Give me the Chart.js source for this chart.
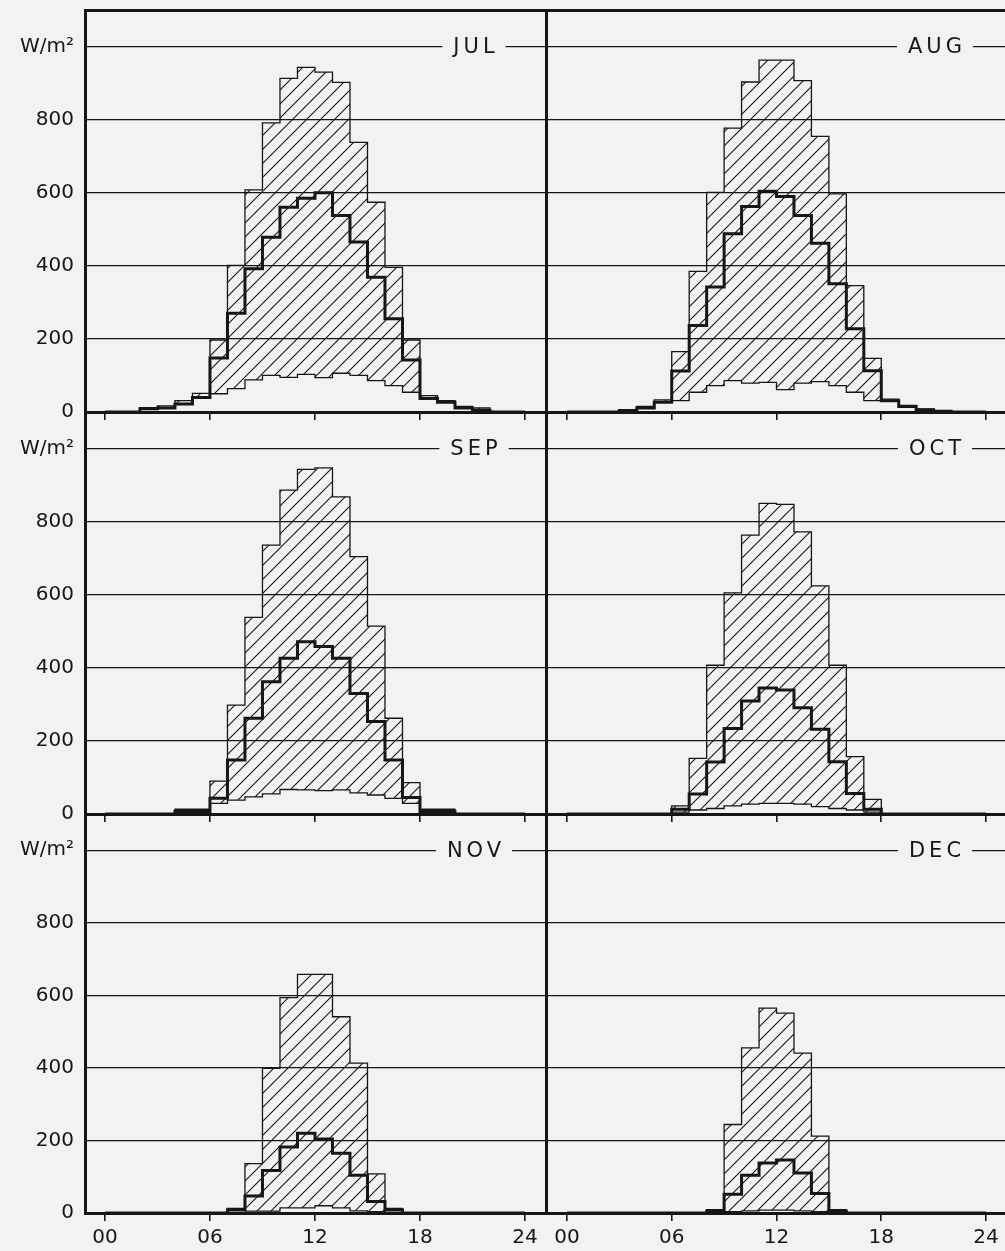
<!DOCTYPE html>
<html lang="en">
<head>
    <meta charset="UTF-8">
    <title>Hourly global radiation, Jul - Dec</title>
    <style>
        html, body { margin: 0; padding: 0; background: #f2f2f0; overflow: hidden; }
        #wrap { position: relative; width: 1005px; height: 1251px; }
        canvas { position: absolute; }
    </style>
</head>
<body>
    <div id="wrap"></div>

    <script src="https://cdn.jsdelivr.net/npm/chart.js@4.4.1/dist/chart.umd.min.js"></script>

    <script>
        // hour of day, one bin per hour
        const hours = [0, 1, 2, 3, 4, 5, 6, 7, 8, 9, 10, 11, 12, 13, 14, 15, 16, 17, 18, 19, 20, 21, 22, 23];
        const xTicks = [0, 6, 12, 18, 24];
        const yTicks = [0, 200, 400, 600, 800, 1000];
        const months = ['JUL', 'AUG', 'SEP', 'OCT', 'NOV', 'DEC'];

        // W/m2 : maximum, mean, minimum for each hour
        const julMax  = [0, 0, 12, 17, 31, 51, 197, 401, 608, 791, 913, 943, 930, 902, 738, 574, 396, 197, 45, 31, 15, 11, 0, 0];
        const julMean = [0, 0, 9, 11, 22, 40, 148, 270, 392, 478, 560, 585, 600, 538, 465, 369, 255, 142, 37, 27, 11, 4, 0, 0];
        const julMin  = [0, 0, 9, 11, 22, 40, 50, 64, 88, 100, 95, 103, 94, 106, 100, 86, 72, 54, 37, 27, 11, 4, 0, 0];

        const augMax  = [0, 0, 0, 6, 15, 33, 165, 385, 601, 777, 903, 963, 963, 907, 754, 597, 346, 147, 35, 18, 8, 3, 0, 0];
        const augMean = [0, 0, 0, 4, 11, 27, 112, 237, 342, 488, 562, 604, 590, 538, 462, 351, 228, 113, 31, 15, 6, 2, 0, 0];
        const augMin  = [0, 0, 0, 4, 11, 27, 31, 54, 72, 86, 79, 81, 61, 79, 83, 72, 54, 31, 31, 15, 6, 2, 0, 0];

        const sepMax  = [0, 0, 0, 0, 13, 13, 90, 298, 538, 736, 886, 943, 947, 868, 704, 514, 262, 86, 13, 13, 0, 0, 0, 0];
        const sepMean = [0, 0, 0, 0, 7, 7, 43, 148, 262, 362, 426, 471, 458, 426, 330, 253, 148, 45, 7, 7, 0, 0, 0, 0];
        const sepMin  = [0, 0, 0, 0, 7, 7, 29, 38, 47, 55, 67, 66, 64, 66, 58, 52, 43, 29, 7, 7, 0, 0, 0, 0];

        const octMax  = [0, 0, 0, 0, 0, 0, 22, 152, 407, 605, 763, 850, 847, 772, 624, 407, 157, 40, 0, 0, 0, 0, 0, 0];
        const octMean = [0, 0, 0, 0, 0, 0, 13, 55, 142, 234, 309, 345, 339, 291, 232, 143, 56, 13, 0, 0, 0, 0, 0, 0];
        const octMin  = [0, 0, 0, 0, 0, 0, 5, 11, 15, 22, 27, 29, 29, 27, 20, 15, 11, 5, 0, 0, 0, 0, 0, 0];

        const novMax  = [0, 0, 0, 0, 0, 0, 0, 13, 136, 399, 594, 658, 658, 541, 413, 108, 13, 0, 0, 0, 0, 0, 0, 0];
        const novMean = [0, 0, 0, 0, 0, 0, 0, 8, 47, 117, 182, 220, 204, 165, 104, 32, 8, 0, 0, 0, 0, 0, 0, 0];
        const novMin  = [0, 0, 0, 0, 0, 0, 0, 8, 5, 5, 14, 14, 20, 14, 6, 4, 8, 0, 0, 0, 0, 0, 0, 0];

        const decMax  = [0, 0, 0, 0, 0, 0, 0, 0, 9, 244, 455, 565, 551, 441, 212, 9, 0, 0, 0, 0, 0, 0, 0, 0];
        const decMean = [0, 0, 0, 0, 0, 0, 0, 0, 5, 52, 104, 138, 146, 110, 54, 5, 0, 0, 0, 0, 0, 0, 0, 0];
        const decMin  = [0, 0, 0, 0, 0, 0, 0, 0, 5, 4, 6, 8, 8, 6, 4, 5, 0, 0, 0, 0, 0, 0, 0, 0];

        const maxSeries  = [julMax, augMax, sepMax, octMax, novMax, decMax];
        const meanSeries = [julMean, augMean, sepMean, octMean, novMean, decMean];
        const minSeries  = [julMin, augMin, sepMin, octMin, novMin, decMin];

        // page layout (pixels)
        const INK = '#161616';
        const PAPER = '#f2f2f0';
        const colLeft = [85, 546], colRight = [546, 1007];
        const rowTop = [10, 412, 814], rowBottom = [412, 814, 1213];
        const xRange = [[-1.14, 25.2], [-1.2, 25.2]];
        const PAD = 4;

        Chart.defaults.font.family = '"DejaVu Sans"';
        Chart.defaults.font.size = 20;
        Chart.defaults.color = INK;

        function hatchPattern() {
            const s = 14;
            const c = document.createElement('canvas');
            c.width = s; c.height = s;
            const g = c.getContext('2d');
            g.strokeStyle = INK;
            g.lineWidth = 1.1;
            g.beginPath();
            g.moveTo(-2, s + 2); g.lineTo(s + 2, -2);
            g.moveTo(-2, 2); g.lineTo(2, -2);
            g.moveTo(s - 2, s + 2); g.lineTo(s + 2, s - 2);
            g.stroke();
            return g.createPattern(c, 'repeat');
        }

        function steps(values) {
            const pts = hours.map((h, i) => ({ x: h, y: values[i] }));
            pts.push({ x: 24, y: values[values.length - 1] });
            return pts;
        }

        // month name sits in a gap of the 1000 grid line
        const monthLabel = {
            id: 'monthLabel',
            beforeDatasetsDraw(chart, args, opts) {
                const { ctx, chartArea, scales } = chart;
                const y = scales.y.getPixelForValue(1000);
                ctx.save();
                ctx.font = '21px "DejaVu Sans"';
                ctx.letterSpacing = '4px';
                const w = ctx.measureText(opts.text).width - 4;
                const cx = chartArea.right - 72;
                ctx.fillStyle = PAPER;
                ctx.fillRect(cx - w / 2 - 11, y - 3, w + 22, 6);
                ctx.fillStyle = INK;
                ctx.textAlign = 'left';
                ctx.textBaseline = 'middle';
                ctx.fillText(opts.text, cx - w / 2, y + 1);
                ctx.restore();
            }
        };

        const wrap = document.getElementById('wrap');
        const hatch = hatchPattern();

        months.forEach((name, i) => {
            const row = Math.floor(i / 2);
            const col = i % 2;
            const axisW = col === 0 ? 85 : PAD;
            const axisH = row === 2 ? 40 : 14;
            const areaW = colRight[col] - colLeft[col];
            const areaH = rowBottom[row] - rowTop[row];

            const canvas = document.createElement('canvas');
            canvas.width = axisW + areaW + PAD;
            canvas.height = PAD + areaH + axisH;
            canvas.style.left = (colLeft[col] - axisW) + 'px';
            canvas.style.top = (rowTop[row] - PAD) + 'px';
            wrap.appendChild(canvas);

            const line = { stepped: 'before', pointRadius: 0, borderColor: INK, borderJoinStyle: 'miter', borderCapStyle: 'butt' };

            new Chart(canvas.getContext('2d'), {
                type: 'line',
                data: {
                    datasets: [
                        { ...line, label: 'mean', data: steps(meanSeries[i]), borderWidth: 3, fill: false },
                        { ...line, label: 'max', data: steps(maxSeries[i]), borderWidth: 1.3, fill: 2, backgroundColor: hatch },
                        { ...line, label: 'min', data: steps(minSeries[i]), borderWidth: 1.3, fill: false }
                    ]
                },
                options: {
                    responsive: false,
                    animation: false,
                    events: [],
                    layout: { padding: { top: PAD, right: PAD, left: 0, bottom: 0 } },
                    plugins: {
                        legend: { display: false },
                        tooltip: { enabled: false },
                        monthLabel: { text: name }
                    },
                    scales: {
                        x: {
                            type: 'linear', position: 'bottom',
                            min: xRange[col][0], max: xRange[col][1],
                            afterBuildTicks: s => { s.ticks = xTicks.map(v => ({ value: v })); },
                            afterFit: s => { s.height = axisH; s.paddingLeft = 0; s.paddingRight = 0; },
                            grid: { drawOnChartArea: false, drawTicks: true, tickLength: 8, color: INK, lineWidth: 1.6 },
                            border: { color: INK, width: 3 },
                            ticks: {
                                display: row === 2, padding: 5, autoSkip: false, maxRotation: 0,
                                callback: v => String(v).padStart(2, '0')
                            }
                        },
                        x2: {
                            type: 'linear', position: 'top',
                            min: xRange[col][0], max: xRange[col][1],
                            afterFit: s => { s.height = 0; },
                            grid: { display: false, drawTicks: false },
                            border: { color: INK, width: 3 },
                            ticks: { display: false }
                        },
                        y: {
                            type: 'linear', position: 'left',
                            min: 0, max: 1100,
                            afterBuildTicks: s => { s.ticks = yTicks.map(v => ({ value: v })); },
                            afterFit: s => { s.width = axisW; s.paddingTop = 0; s.paddingBottom = 0; },
                            grid: { drawTicks: false, color: INK, lineWidth: 1.2 },
                            border: { color: INK, width: 3 },
                            ticks: {
                                display: col === 0, padding: 11, autoSkip: false,
                                callback: v => v === 1000 ? 'W/m\u00b2' : String(v)
                            }
                        },
                        y2: {
                            type: 'linear', position: 'right',
                            min: 0, max: 1100,
                            afterFit: s => { s.width = 0; },
                            grid: { display: false, drawTicks: false },
                            border: { color: INK, width: 3 },
                            ticks: { display: false }
                        }
                    }
                },
                plugins: [monthLabel]
            });
        });
    </script>
</body>
</html>
